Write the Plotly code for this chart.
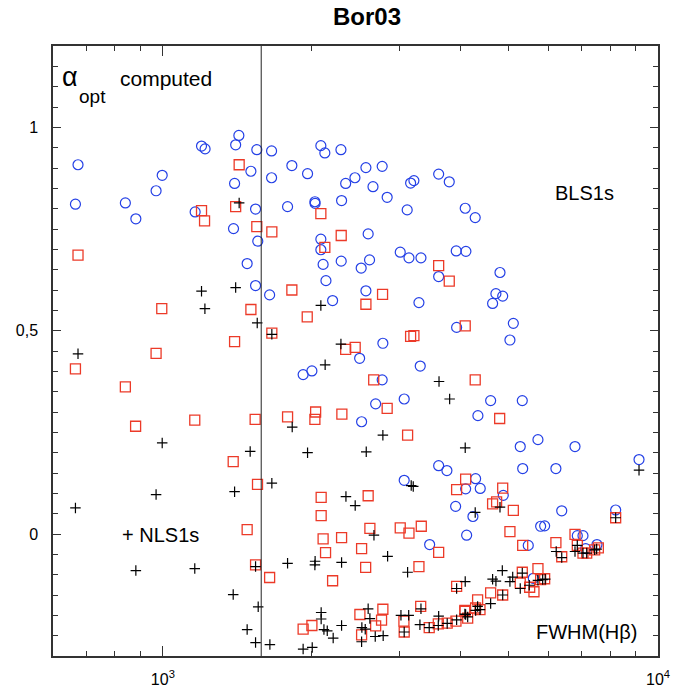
import math
import plotly.graph_objects as go

# ---------------- data ----------------
# BLS1s-type points (blue open circles): FWHM(Hb) [km/s], alpha_opt
blue_fwhm = [674, 666, 840, 882, 969, 997, 1197, 1217, 1162, 1424, 1403, 1548, 1506, 1396, 1539,
             1389, 1555, 1480, 1539, 1658, 2085, 2124, 2289, 1822, 1658, 1960, 2571, 2773, 2340,
             2443, 2657, 3165, 3214, 3606, 3788, 1786, 2028, 2030, 2296, 2838, 3115, 4080, 2085,
             2085, 2598, 3016, 3141, 3321, 3913, 4093, 2107, 2292, 2515, 2615, 3606, 1643, 2135,
             2571, 3290, 2202, 3920, 2782, 2497, 3310, 1920, 2000, 2773, 2690, 3072, 2520, 3606,
             3747, 3072, 4088, 3902, 4107, 3458, 4274, 4796, 4706, 4857, 4634, 5103, 5023, 4592,
             5320, 4328, 5722, 5270, 6798, 5330, 6220, 9155, 4282, 4375, 4870, 6391, 4229, 5794,
             5903, 8213, 6871, 7055, 5470, 7143, 7530, 5599]
blue_alpha = [0.908, 0.811, 0.814, 0.775, 0.844, 0.882, 0.954, 0.947, 0.792, 0.980, 0.957, 0.945,
              0.892, 0.862, 0.799, 0.751, 0.720, 0.665, 0.611, 0.942, 0.955, 0.937, 0.945, 0.906,
              0.876, 0.886, 0.901, 0.904, 0.862, 0.876, 0.854, 0.863, 0.869, 0.885, 0.866, 0.805,
              0.817, 0.813, 0.820, 0.828, 0.797, 0.801, 0.725, 0.699, 0.738, 0.693, 0.679, 0.679,
              0.696, 0.695, 0.663, 0.671, 0.654, 0.674, 0.633, 0.588, 0.623, 0.598, 0.569, 0.574,
              0.508, 0.469, 0.432, 0.413, 0.392, 0.401, 0.379, 0.320, 0.332, 0.276, 0.168, 0.156,
              0.132, 0.111, 0.068, -0.003, -0.026, 0.778, 0.643, 0.591, 0.585, 0.567, 0.518, 0.477,
              0.328, 0.328, 0.291, 0.232, 0.215, 0.215, 0.161, 0.161, 0.183, 0.136, 0.112, 0.095,
              0.057, 0.043, 0.019, 0.020, 0.059, -0.004, -0.004, -0.028, -0.036, -0.026, -0.109]

# red open squares
red_fwhm = [1426, 1197, 1214, 1403, 1548, 1660, 674, 995, 1506, 2085, 2292, 2124, 3606, 3788, 1822,
            2778, 2571, 1957, 1660, 3165, 3214, 2340, 2446, 4080, 2666, 666, 969, 1396, 840, 881,
            1160, 1536, 1387, 1553, 1480, 1539, 1643, 1786, 2035, 2028, 2299, 2838, 3121, 2088,
            2088, 2598, 2107, 2296, 2131, 2619, 2520, 3016, 3141, 3326, 3606, 2568, 3290, 2202,
            3920, 4088, 3920, 1920, 2000, 2500, 2782, 2690, 2765, 2520, 3068, 3072, 3317, 3451,
            3600, 3752, 3908, 4074, 4274, 4789, 4857, 4634, 4721, 5103, 5023, 5330, 6220, 6391,
            6798, 6871, 7055, 7178, 7449, 7577, 8213, 5320, 5270, 5722, 5506, 5617, 5794, 5903,
            4592, 4857, 4322, 4282, 4074, 4127, 4370]
red_alpha = [0.908, 0.795, 0.770, 0.805, 0.756, 0.743, 0.686, 0.554, 0.552, 0.788, 0.734, 0.705,
             0.660, 0.622, 0.600, 0.589, 0.565, 0.534, 0.494, 0.486, 0.488, 0.454, 0.459, 0.512,
             0.379, 0.406, 0.444, 0.473, 0.362, 0.265, 0.280, 0.282, 0.178, 0.122, 0.011, -0.076,
             -0.107, 0.288, 0.300, 0.282, 0.295, 0.309, 0.243, 0.090, 0.045, 0.094, -0.012, -0.009,
             -0.046, 0.014, -0.036, 0.015, 0.002, 0.019, -0.045, -0.082, -0.080, -0.115, -0.129,
             0.135, 0.109, -0.234, -0.225, -0.198, -0.185, -0.226, -0.212, -0.248, -0.214, -0.241,
             -0.178, -0.230, -0.221, -0.219, -0.214, -0.188, 0.379, 0.284, 0.113, 0.074, 0.079,
             0.058, 0.006, -0.028, -0.021, -0.056, -0.001, -0.028, -0.047, -0.047, -0.039, -0.034,
             0.040, -0.094, -0.121, -0.085, -0.131, -0.142, -0.112, -0.110, -0.145, -0.150, -0.162,
             -0.182, -0.190, -0.207, -0.186]

# black plus signs
black_fwhm = [1426, 1197, 1403, 1216, 1551, 674, 997, 1501, 666, 969, 1396, 882, 1160, 1539, 1387,
              1558, 1480, 1539, 1645, 1660, 2085, 1660, 2289, 2127, 3612, 1825, 1960, 2575, 2782,
              3795, 4080, 2343, 2446, 3174, 3204, 2669, 2844, 3121, 1786, 2030, 2028, 2296, 4080,
              3920, 1920, 2003, 2088, 2088, 2115, 2148, 2208, 2296, 2523, 2563, 2520, 2598, 2619,
              2685, 2786, 3026, 3137, 3072, 3321, 3305, 3451, 3606, 3600, 3752, 3920, 4088, 9155,
              4274, 4796, 6229, 6391, 6798, 6871, 7055, 7178, 7449, 7518, 8213, 4634, 4706, 4848,
              5023, 5088, 5270, 5320, 5495, 5722, 5849, 5919, 4857, 4592, 4322, 4282, 4127, 4074,
              4370]
black_alpha = [0.814, 0.597, 0.606, 0.554, 0.519, 0.443, 0.224, 0.203, 0.064, 0.097, 0.104, -0.090,
               -0.085, -0.080, -0.149, -0.179, -0.235, -0.267, -0.272, 0.125, 0.562, 0.491, 0.467,
               0.416, 0.375, 0.263, 0.200, 0.202, 0.243, 0.332, 0.212, 0.092, 0.070, 0.119, 0.117,
               -0.003, -0.055, -0.094, -0.072, -0.067, -0.076, -0.070, -0.117, -0.134, -0.283,
               -0.279, -0.193, -0.209, -0.235, -0.238, -0.256, -0.225, -0.230, -0.234, -0.265,
               -0.184, -0.208, -0.252, -0.250, -0.200, -0.200, -0.241, -0.184, -0.223, -0.230,
               -0.202, -0.225, -0.220, -0.211, -0.198, 0.157, 0.053, 0.066, -0.043, -0.058, -0.043,
               -0.028, -0.047, -0.047, -0.039, -0.037, 0.040, -0.111, -0.116, -0.090, -0.117,
               -0.106, -0.134, -0.096, -0.126, -0.114, -0.112, -0.111, -0.150, -0.171, -0.178,
               -0.188, -0.204, -0.197, -0.186]

divide_fwhm = 1580          # vertical separator
x_range = [600, 10000]
y_range = [-0.3, 1.2]
x_tickvals = [1000, 10000]
x_ticktext = ["10<sup>3</sup>", "10<sup>4</sup>"]
x_minor = [700, 800, 900, 2000, 3000, 4000, 5000, 6000, 7000, 8000, 9000]
y_tickvals = [0, 0.5, 1]
y_ticktext = ["0", "0,5", "1"]

# ---------------- figure ----------------
FONT = "Liberation Sans, Arial, Helvetica, sans-serif"
fig = go.Figure()

fig.add_trace(go.Scatter(x=blue_fwhm, y=blue_alpha, mode="markers",
                         marker=dict(symbol="circle-open", size=10, color="#2440e6",
                                     line=dict(width=1.2, color="#2440e6")),
                         showlegend=False))
fig.add_trace(go.Scatter(x=red_fwhm, y=red_alpha, mode="markers",
                         marker=dict(symbol="square-open", size=10, color="#ec3a28",
                                     line=dict(width=1.3, color="#ec3a28")),
                         showlegend=False))
fig.add_trace(go.Scatter(x=black_fwhm, y=black_alpha, mode="markers",
                         marker=dict(symbol="cross-thin-open", size=7.5, color="black",
                                     line=dict(width=1.2, color="black")),
                         showlegend=False))

fig.add_shape(type="line", xref="x", yref="paper", x0=divide_fwhm, x1=divide_fwhm,
              y0=0, y1=1, line=dict(color="#222", width=1))

axis_common = dict(showgrid=False, zeroline=False, showline=True, linecolor="#333",
                   linewidth=1.5, mirror="allticks", ticks="inside", tickcolor="#333",
                   tickwidth=1, automargin=False,
                   tickfont=dict(family=FONT, size=16, color="black"))

fig.update_xaxes(type="log", range=[math.log10(x_range[0]), math.log10(x_range[1])],
                 tickvals=x_tickvals, ticktext=x_ticktext, ticklen=10,
                 ticklabelstandoff=8,
                 minor=dict(tickvals=x_minor, ticks="inside", ticklen=5, tickcolor="#333",
                            showgrid=False),
                 **axis_common)
fig.update_yaxes(range=y_range, tickvals=y_tickvals, ticktext=y_ticktext, ticklen=8,
                 ticklabelstandoff=10,
                 minor=dict(dtick=0.05, tick0=0, ticks="inside", ticklen=5, tickcolor="#333",
                            showgrid=False),
                 **axis_common)

def ann(text, x, y, size, xanchor="center", yanchor="middle"):
    fig.add_annotation(text=text, xref="paper", yref="paper", x=x, y=y, showarrow=False,
                       xanchor=xanchor, yanchor=yanchor,
                       font=dict(family=FONT, size=size, color="black"))

ann("α", 0.0273, 0.949, 27)
ann("opt", 0.0645, 0.918, 19)
ann("computed", 0.1868, 0.9475, 21)
ann("BLS1s", 0.879, 0.759, 20)
ann("+ NLS1s", 0.1107, 0.198, 20, xanchor="left")
ann("FWHM(Hβ)", 0.8826, 0.039, 20)

fig.update_layout(
    width=681, height=691,
    margin=dict(l=53, r=23, t=46, b=35, autoexpand=False),
    paper_bgcolor="white", plot_bgcolor="white",
    title=dict(text="<b>Bor03</b>", x=(367 - 53) / 605, xref="paper", xanchor="center",
               y=1 - 17 / 691, yref="container", yanchor="middle",
               font=dict(family=FONT, size=24, color="black")),
)

fig.write_html("out.html", config={"displayModeBar": False},
               post_script="document.body.style.margin='0';document.body.style.padding='0';")
